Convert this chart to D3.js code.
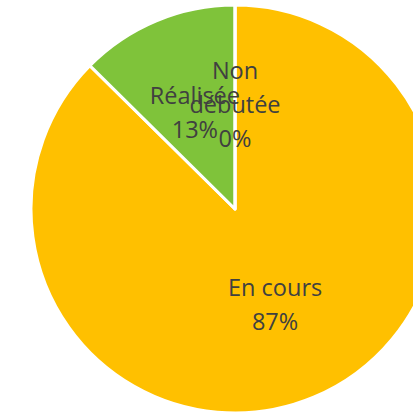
<!DOCTYPE html>
<html>
<head>
<meta charset="utf-8">
<script src="https://cdn.jsdelivr.net/npm/d3@7"></script>
<style>
  html, body { margin: 0; padding: 0; background: #ffffff; overflow: hidden; }
  svg { display: block; }
</style>
</head>
<body>
<svg id="chart" width="413" height="414"></svg>
<script>
// Data
const categories = ["En cours", "Réalisée", "Non débutée"];
const values = [87.4, 12.6, 0];
const labelLines = [["En cours"], ["Réalisée"], ["Non", "débutée"]];
const colors = ["#FFC000", "#7FC33A", "#5B9BD5"];

const W = 413, H = 414;
const cx = 235, cy = 209, R = 204;
const labelR = 104;
const lineH = 34, capH = 16.5;

const svg = d3.select("#chart");
const g = svg.append("g").attr("transform", `translate(${cx},${cy})`);

const total = d3.sum(values);
const pie = d3.pie().sort(null).value(d => d)(values);
const arc = d3.arc().innerRadius(0).outerRadius(R);
const labelArc = d3.arc().innerRadius(labelR).outerRadius(labelR);

g.selectAll("path.slice")
  .data(pie)
  .join("path")
  .attr("class", "slice")
  .attr("d", arc)
  .attr("fill", (d, i) => colors[i])
  .attr("stroke", "#ffffff")
  .attr("stroke-width", 3)
  .attr("stroke-linejoin", "round");

const labels = g.selectAll("text.lbl")
  .data(pie)
  .join("text")
  .attr("class", "lbl")
  .attr("text-anchor", "middle")
  .attr("font-family", "'Open Sans', sans-serif")
  .attr("font-size", 23.5)
  .attr("fill", "#404040");

labels.each(function(d, i) {
  const [x, y] = labelArc.centroid(d);
  const lines = labelLines[i].concat([Math.round(values[i] / total * 100) + "%"]);
  const n = lines.length;
  const b1 = y - ((n - 1) * lineH - capH) / 2;
  const t = d3.select(this);
  lines.forEach((ln, k) => {
    t.append("tspan").attr("x", x).attr("y", b1 + k * lineH).text(ln);
  });
});
</script>
</body>
</html>
